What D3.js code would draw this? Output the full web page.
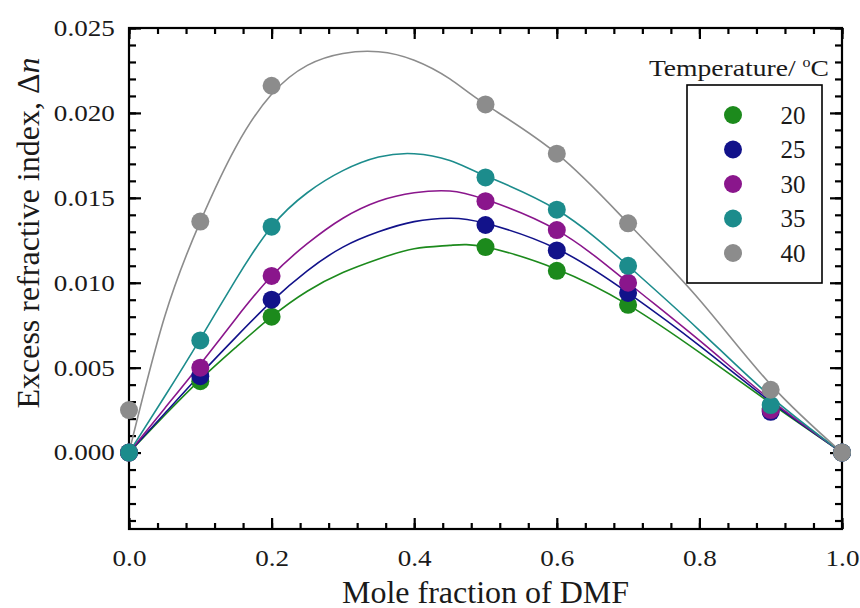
<!DOCTYPE html>
<html>
<head>
<meta charset="utf-8">
<script src="https://cdn.jsdelivr.net/npm/d3@7"></script>
<style>
  html, body { margin: 0; padding: 0; background: #fff; }
  svg { display: block; }
  svg text { font-family: "Liberation Serif", "DejaVu Serif", serif; fill: #1a1a1a; }
</style>
</head>
<body>
<svg id="chart" width="860" height="608"></svg>
<script>
// Measured compositions (mole fraction of DMF)
const molFractions = [0.0, 0.1, 0.2, 0.5, 0.6, 0.7, 0.9, 1.0];

// Excess refractive index, one array per temperature (°C)
const temperatures = ["20", "25", "30", "35", "40"];
const dn20 = [0.0000, 0.0042, 0.0080, 0.0121, 0.0107, 0.0087, 0.0026, 0.0000];
const dn25 = [0.0000, 0.0045, 0.0090, 0.0134, 0.0119, 0.0094, 0.0024, 0.0000];
const dn30 = [0.0000, 0.0050, 0.0104, 0.0148, 0.0131, 0.0100, 0.0025, 0.0000];
const dn35 = [0.0000, 0.0066, 0.0133, 0.0162, 0.0143, 0.0110, 0.0028, 0.0000];
const dn40 = [0.0025, 0.0136, 0.0216, 0.0205, 0.0176, 0.0135, 0.0037, 0.0000];

// Fitted curves, sampled on a fixed composition grid
const fitX   = [0.0, 0.05, 0.1, 0.15, 0.2, 0.25, 0.3, 0.35, 0.4, 0.45, 0.5, 0.6, 0.7, 0.8, 0.9, 1.0];
const fit20  = [0, 0.0022, 0.0043, 0.0062, 0.0080, 0.0095, 0.0106, 0.0114, 0.0120, 0.0122, 0.0121, 0.0108, 0.0087, 0.0059, 0.0029, 0];
const fit25  = [0, 0.0023, 0.0046, 0.0068, 0.0089, 0.0107, 0.0121, 0.0130, 0.0136, 0.0138, 0.0135, 0.0120, 0.0094, 0.0063, 0.0030, 0];
const fit30  = [0, 0.0026, 0.0052, 0.0079, 0.0104, 0.0123, 0.0138, 0.0148, 0.0153, 0.0154, 0.0149, 0.0131, 0.0100, 0.0066, 0.0031, 0];
const fit35  = [0, 0.0033, 0.0067, 0.0102, 0.0133, 0.0153, 0.0166, 0.0174, 0.0176, 0.0172, 0.0163, 0.0143, 0.0110, 0.0072, 0.0033, 0];
const fit40  = [0, 0.0080, 0.0136, 0.0180, 0.0211, 0.0228, 0.0235, 0.0236, 0.0231, 0.0220, 0.0205, 0.0176, 0.0135, 0.0090, 0.0040, 0];

const seriesColors = ["#1c8a1c", "#12128a", "#8a168c", "#1c8c8c", "#8c8c8c"];

// Axis ticks
const xMajorTicks = [0.0, 0.2, 0.4, 0.6, 0.8, 1.0];
const xMinorTicks = d3.range(0, 1.0001, 0.04);
const yMajorTicks = [0.000, 0.005, 0.010, 0.015, 0.020, 0.025];
const yMinorTicks = d3.range(-0.004, 0.0250001, 0.001);

const xTitle = "Mole fraction of DMF";
const yTitle = "Excess refractive index, Δ";
const yTitleSymbol = "n";
const legendTitle = "Temperature/ ";

const series = temperatures.map((t, i) => ({
  name: t,
  color: seriesColors[i],
  points: molFractions.map((x, j) => ({ x, y: [dn20, dn25, dn30, dn35, dn40][i][j] })),
  fit: fitX.map((x, j) => ({ x, y: [fit20, fit25, fit30, fit35, fit40][i][j] }))
}));

const svg = d3.select("#chart");
const plotLeft = 129, plotRight = 842, plotTop = 28, plotBottom = 529;

const x = d3.scaleLinear().domain([0, 1]).range([plotLeft, plotRight]);
const y = d3.scaleLinear().domain([-0.0045, 0.025]).range([plotBottom, plotTop]);

// Bottom axis: major ticks with labels, then minor ticks
const gB = svg.append("g").attr("transform", `translate(0,${plotBottom})`);
gB.call(d3.axisBottom(x).tickValues(xMajorTicks).tickSize(-11).tickPadding(21).tickFormat(d3.format(".1f")));
gB.append("g").call(d3.axisBottom(x).tickValues(xMinorTicks).tickSize(-6).tickFormat(""));
// Top axis (ticks only)
const gT = svg.append("g").attr("transform", `translate(0,${plotTop})`);
gT.call(d3.axisTop(x).tickValues(xMajorTicks).tickSize(-11).tickFormat(""));
gT.append("g").call(d3.axisTop(x).tickValues(xMinorTicks).tickSize(-6).tickFormat(""));
// Left axis with labels
const gL = svg.append("g").attr("transform", `translate(${plotLeft},0)`);
gL.call(d3.axisLeft(y).tickValues(yMajorTicks).tickSize(-12).tickPadding(12).tickFormat(d3.format(".3f")));
gL.append("g").call(d3.axisLeft(y).tickValues(yMinorTicks).tickSize(-7).tickFormat(""));
// Right axis (ticks only)
const gR = svg.append("g").attr("transform", `translate(${plotRight},0)`);
gR.call(d3.axisRight(y).tickValues(yMajorTicks).tickSize(-12).tickFormat(""));
gR.append("g").call(d3.axisRight(y).tickValues(yMinorTicks).tickSize(-7).tickFormat(""));

svg.selectAll("g[font-family]").attr("font-family", null);
svg.selectAll(".domain").remove();
svg.selectAll(".tick line").attr("stroke", "#000").attr("stroke-width", 2.2);
// Tick labels: a slightly wide serif face
svg.selectAll(".tick text")
  .style("font-size", "23px")
  .attr("transform", "scale(1.18,1)");

// Plot frame
svg.append("rect")
  .attr("x", plotLeft).attr("y", plotTop)
  .attr("width", plotRight - plotLeft).attr("height", plotBottom - plotTop)
  .attr("fill", "none").attr("stroke", "#000").attr("stroke-width", 2.2);

// Fitted curves
const line = d3.line().x(d => x(d.x)).y(d => y(d.y)).curve(d3.curveNatural);
svg.append("g").selectAll("path")
  .data(series).join("path")
  .attr("d", d => line(d.fit))
  .attr("fill", "none")
  .attr("stroke", d => d.color)
  .attr("stroke-width", 1.6);

// Data markers
series.forEach(s => {
  svg.append("g").selectAll("circle")
    .data(s.points).join("circle")
    .attr("cx", d => x(d.x)).attr("cy", d => y(d.y))
    .attr("r", 9)
    .attr("fill", s.color);
});

// Legend
const lg = svg.append("g");
lg.append("rect")
  .attr("x", 687).attr("y", 85).attr("width", 135).attr("height", 198)
  .attr("fill", "#fff").attr("stroke", "#000").attr("stroke-width", 1.6);
const lt = lg.append("text")
  .attr("transform", "translate(829,76) scale(1.15,1)")
  .attr("text-anchor", "end")
  .style("font-size", "24px");
lt.append("tspan").text(legendTitle);
lt.append("tspan").attr("dy", -9).style("font-size", "14px").text("o");
lt.append("tspan").attr("dy", 9).text("C");
const legendRowY = d3.scalePoint().domain(temperatures).range([115, 253]);
temperatures.forEach((t, i) => {
  lg.append("circle").attr("cx", 733).attr("cy", legendRowY(t)).attr("r", 9).attr("fill", seriesColors[i]);
  lg.append("text").attr("x", 793).attr("y", legendRowY(t)).attr("dy", "0.35em")
    .attr("text-anchor", "middle").style("font-size", "25px").text(t);
});

// Axis titles
svg.append("text")
  .attr("x", (plotLeft + plotRight) / 2).attr("y", 603)
  .attr("text-anchor", "middle").style("font-size", "32px")
  .text(xTitle);
const yt = svg.append("text")
  .attr("transform", "translate(39,233) rotate(-90)")
  .attr("text-anchor", "middle").style("font-size", "32px");
yt.append("tspan").text(yTitle);
yt.append("tspan").style("font-style", "italic").text(yTitleSymbol);
</script>
</body>
</html>
